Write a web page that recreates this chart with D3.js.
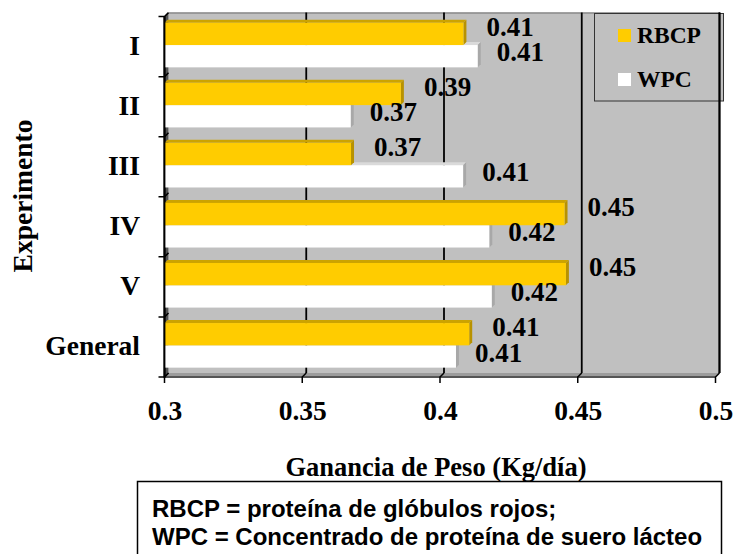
<!DOCTYPE html>
<html><head><meta charset="utf-8">
<script src="https://cdn.jsdelivr.net/npm/d3@7"></script>
<style>
html,body{margin:0;padding:0;background:#fff;}
svg{display:block;}
</style></head>
<body>
<svg id="chart" width="733" height="554"></svg>
<script>
// ---- data ----
const categories = ["I", "II", "III", "IV", "V", "General"];
const seriesNames = ["RBCP", "WPC"];
const rbcpValues = [0.4085, 0.3858, 0.3677, 0.4452, 0.4457, 0.4106];
const wpcValues  = [0.4137, 0.3676, 0.4084, 0.4179, 0.4188, 0.4058];
const xTicks = [0.3, 0.35, 0.4, 0.45, 0.5];
const xTickLabels = ["0.3", "0.35", "0.4", "0.45", "0.5"];
const xTitle = "Ganancia de Peso (Kg/día)";
const yTitle = "Experimento";
const noteLines = ["RBCP = proteína de glóbulos rojos;", "WPC = Concentrado de proteína de suero lácteo"];

// ---- styles ----
const serif = "'Times New Roman','Liberation Serif',serif";
const sans = "Arial,'Liberation Sans',sans-serif";
const colors = {RBCP: {front: "#FFCC00", top: "#CCA300", side: "#B89200"},
                WPC:  {front: "#FFFFFF", top: "#DADADA", side: "#A8A8A8"}};
const labelOffset = {RBCP: {dx: 23, dy: -7}, WPC: {dx: 19, dy: -4}};
const wallD = 4, barD = 3;

const svg = d3.select("#chart");
const x = d3.scaleLinear().domain([0.3, 0.5]).range([164.5, 715.5]);
const y = d3.scaleBand().domain(categories).range([16.6, 377]).paddingInner(0.2575).paddingOuter(0.129);
const y1 = d3.scaleBand().domain(seriesNames).range([0, y.bandwidth()]);
const yTop = 16.6, yBot = 377;
const xL = x(0.3), xR = x(0.5);

// back wall
svg.append("rect").attr("x", xL + wallD).attr("y", yTop - wallD)
  .attr("width", xR - xL).attr("height", yBot - yTop).attr("fill", "#C0C0C0");
svg.append("line").attr("x1", xL + wallD).attr("x2", xR + wallD).attr("y1", yTop - wallD + 0.5).attr("y2", yTop - wallD + 0.5)
  .attr("stroke", "#8a8a8a").attr("stroke-width", 1.5);

// legend
const lg = svg.append("g");
lg.append("rect").attr("x", 594.5).attr("y", 13.5).attr("width", 129).attr("height", 87.5)
  .attr("fill", "#C0C0C0").attr("stroke", "#333").attr("stroke-width", 1);

// vertical gridlines on back wall
xTicks.forEach(v => {
  const xv = x(v);
  if (v > 0.3) {
    svg.append("line").attr("x1", xv + wallD).attr("x2", xv + wallD)
      .attr("y1", yTop - wallD).attr("y2", yBot - wallD)
      .attr("stroke", "#000").attr("stroke-width", 1.8);
  }
});

// floor
svg.append("path")
  .attr("d", `M${xL},${yBot} L${xR},${yBot} L${xR + wallD},${yBot - wallD} L${xL + wallD},${yBot - wallD} Z`)
  .attr("fill", "#9c9c9c");
svg.append("line").attr("x1", xL).attr("x2", xR).attr("y1", yBot).attr("y2", yBot)
  .attr("stroke", "#555").attr("stroke-width", 2);
xTicks.forEach(v => {
  const xv = x(v);
  svg.append("path").attr("d", `M${xv},${yBot + 6} L${xv},${yBot} L${xv + wallD},${yBot - wallD}`)
    .attr("fill", "none").attr("stroke", "#000").attr("stroke-width", 1.5);
});

// left wall
svg.append("path")
  .attr("d", `M${xL},${yTop} L${xL + wallD},${yTop - wallD} L${xL + wallD},${yBot - wallD} L${xL},${yBot} Z`)
  .attr("fill", "#555");
svg.append("line").attr("x1", xL).attr("x2", xL).attr("y1", yTop).attr("y2", yBot)
  .attr("stroke", "#000").attr("stroke-width", 2);

// y ticks at band boundaries
const pad = (y.step() - y.bandwidth()) / 2;
const bounds = categories.map(c => y(c) - pad).concat([y(categories[categories.length - 1]) - pad + y.step()]);
bounds.forEach(b => {
  svg.append("path").attr("d", `M${xL - 6},${b} L${xL},${b} L${xL + wallD},${b - wallD}`)
    .attr("fill", "none").attr("stroke", "#000").attr("stroke-width", 1.5);
});

// bars
const rows = categories.map((c, i) => ({cat: c, RBCP: rbcpValues[i], WPC: wpcValues[i]}));
const barsG = svg.append("g");
const shift = -1.6;
rows.forEach(r => {
  ["WPC", "RBCP"].forEach(s => {
    const x0 = xL, x1 = x(r[s]);
    const yt = y(r.cat) + y1(s) + shift, h = y1.bandwidth();
    const col = colors[s];
    const g = barsG.append("g");
    g.append("path").attr("d", `M${x0},${yt} L${x0 + barD},${yt - barD} L${x1 + barD},${yt - barD} L${x1},${yt} Z`).attr("fill", col.top);
    g.append("path").attr("d", `M${x1},${yt} L${x1 + barD},${yt - barD} L${x1 + barD},${yt + h - barD} L${x1},${yt + h} Z`).attr("fill", col.side);
    g.append("rect").attr("x", x0).attr("y", yt).attr("width", x1 - x0).attr("height", h).attr("fill", col.front);
  });
});
// axis line over bars
svg.append("line").attr("x1", xL).attr("x2", xL).attr("y1", yTop).attr("y2", yBot + 1)
  .attr("stroke", "#000").attr("stroke-width", 1.8);

// data labels
const fmt = d3.format(".2f");
rows.forEach(r => {
  seriesNames.forEach(s => {
    const yc = y(r.cat) + y1(s) + shift + y1.bandwidth() / 2;
    svg.append("text").attr("x", x(r[s]) + labelOffset[s].dx).attr("y", yc + labelOffset[s].dy)
      .attr("dominant-baseline", "central")
      .attr("font-family", serif).attr("font-weight", "bold").attr("font-size", 27)
      .text(fmt(r[s]));
  });
});

// legend entries
seriesNames.forEach((s, i) => {
  const ly = 29 + i * 44;
  lg.append("rect").attr("x", 618).attr("y", ly).attr("width", 13).attr("height", 13).attr("fill", colors[s].front);
  lg.append("text").attr("x", 637).attr("y", ly + 14).attr("font-family", serif).attr("font-weight", "bold")
    .attr("font-size", 23.5).text(s);
});
// right edge over legend
svg.append("line").attr("x1", xR + wallD).attr("x2", xR + wallD).attr("y1", yTop - wallD).attr("y2", yBot - wallD)
  .attr("stroke", "#000").attr("stroke-width", 1.8);

// x axis labels
const xAxis = d3.axisBottom(x).tickValues(xTicks).tickFormat((d, i) => xTickLabels[i]).tickSize(0).tickPadding(0);
const xg = svg.append("g").attr("transform", `translate(0,${yBot})`).call(xAxis);
xg.select(".domain").remove();
xg.selectAll("text").attr("font-family", serif).attr("font-weight", "bold").attr("font-size", 27.5)
  .attr("fill", "#000").attr("dy", null).attr("y", 43);

// y axis labels
const yAxis = d3.axisLeft(y).tickSize(0).tickPadding(0);
const yg = svg.append("g").attr("transform", `translate(140,-1)`).call(yAxis);
yg.select(".domain").remove();
yg.selectAll("text").attr("font-family", serif).attr("font-weight", "bold").attr("font-size", 27.5)
  .attr("fill", "#000").attr("dy", null).attr("dominant-baseline", "central").attr("x", 0);

// titles
svg.append("text").attr("x", 436).attr("y", 476).attr("text-anchor", "middle")
  .attr("font-family", serif).attr("font-weight", "bold").attr("font-size", 26.5).text(xTitle);
svg.append("text").attr("transform", "translate(22,196) rotate(-90)").attr("text-anchor", "middle")
  .attr("dominant-baseline", "central")
  .attr("font-family", serif).attr("font-weight", "bold").attr("font-size", 27.5).text(yTitle);

// note box
svg.append("rect").attr("x", 137.5).attr("y", 481.5).attr("width", 584).attr("height", 90)
  .attr("fill", "#fff").attr("stroke", "#000").attr("stroke-width", 1.5);
noteLines.forEach((t, i) => {
  svg.append("text").attr("x", 152).attr("y", 517 + i * 28).attr("font-family", sans).attr("font-weight", "bold")
    .attr("font-size", 24).text(t);
});
</script>
</body></html>
